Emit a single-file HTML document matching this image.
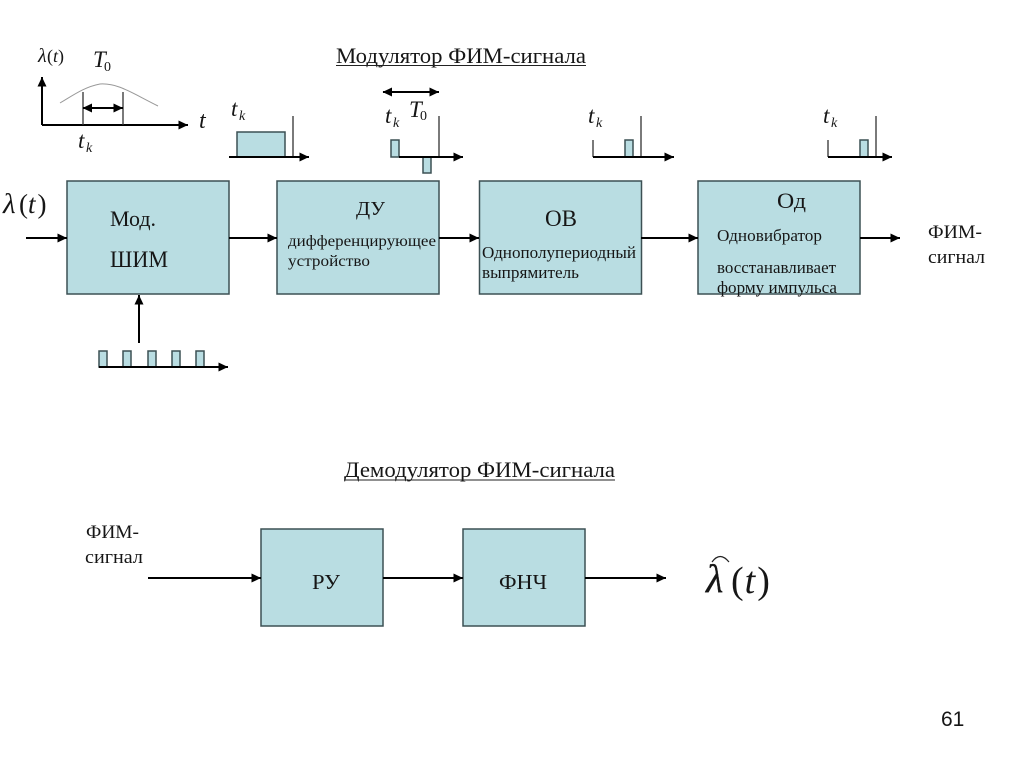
<!DOCTYPE html>
<html><head><meta charset="utf-8">
<style>
html,body{margin:0;padding:0;background:#fff;width:1024px;height:767px;overflow:hidden}
svg{display:block}
text{font-family:"Liberation Serif","DejaVu Serif",serif;fill:#161616}
.i{font-style:italic}
.b{fill:#b9dde2;stroke:#3c5054;stroke-width:1.5}
.p{fill:#b9dde2;stroke:#3c5054;stroke-width:1.5}
.l{stroke:#000;stroke-width:2;fill:none}
.g{stroke:#333;stroke-width:1.3;fill:none}
</style></head><body>
<svg width="1024" height="767" viewBox="0 0 1024 767" xmlns="http://www.w3.org/2000/svg">
<defs>
<marker id="a" markerUnits="userSpaceOnUse" markerWidth="11" markerHeight="12" refX="9.500" refY="6" orient="auto"><path d="M0,1.500 L9.500,6 L0,10.500 Z" fill="#000"/></marker>
<marker id="s" markerUnits="userSpaceOnUse" markerWidth="11" markerHeight="12" refX="1" refY="6" orient="auto"><path d="M10,1.500 L0.500,6 L10,10.500 Z" fill="#000"/></marker>
</defs>

<!-- titles -->
<text x="336" y="63" font-size="22" textLength="250" lengthAdjust="spacingAndGlyphs">Модулятор ФИМ-сигнала</text>
<line x1="336" y1="65.500" x2="586" y2="65.500" stroke="#222" stroke-width="1"/>
<text x="344" y="477" font-size="22" textLength="271" lengthAdjust="spacingAndGlyphs">Демодулятор ФИМ-сигнала</text>
<line x1="344" y1="480" x2="615" y2="480" stroke="#222" stroke-width="1"/>

<!-- small graph -->
<path d="M60,103 C72,96 84,87 100,84 C118,83 130,92 158,106" fill="none" stroke="#999" stroke-width="1"/>
<line class="l" x1="42" y1="125" x2="42" y2="77" marker-end="url(#a)"/>
<line class="l" x1="42" y1="125" x2="188" y2="125" marker-end="url(#a)"/>
<line class="g" x1="83" y1="92" x2="83" y2="125"/>
<line class="g" x1="123" y1="92" x2="123" y2="125"/>
<line class="l" x1="83" y1="108" x2="123" y2="108" marker-start="url(#s)" marker-end="url(#a)"/>
<text class="i" x="38" y="62" font-size="20">λ</text><text x="47" y="62" font-size="18">(<tspan class="i">t</tspan>)</text>
<text class="i" x="93" y="67" font-size="23">T</text><text x="104" y="71" font-size="14">0</text>
<text class="i" x="199" y="128" font-size="24">t</text>
<text class="i" x="78" y="148" font-size="23">t</text><text class="i" x="86" y="152" font-size="14">k</text>

<!-- pulse 1 -->
<text class="i" x="231" y="116" font-size="23">t</text><text class="i" x="239" y="120" font-size="14">k</text>
<rect class="p" x="237" y="132" width="48" height="25"/>
<line class="g" x1="293" y1="116" x2="293" y2="157"/>
<line class="l" x1="229" y1="157" x2="309" y2="157" marker-end="url(#a)"/>

<!-- pulse 2 -->
<line class="l" x1="383" y1="92" x2="439" y2="92" marker-start="url(#s)" marker-end="url(#a)"/>
<text class="i" x="409" y="117" font-size="23">T</text><text x="420" y="120" font-size="14">0</text>
<text class="i" x="385" y="123" font-size="23">t</text><text class="i" x="393" y="127" font-size="14">k</text>
<rect class="p" x="391" y="140" width="8" height="17"/>
<rect class="p" x="423" y="157" width="8" height="16"/>
<line class="g" x1="439" y1="116" x2="439" y2="157"/>
<line class="l" x1="399" y1="157" x2="463" y2="157" marker-end="url(#a)"/>

<!-- pulse 3 -->
<text class="i" x="588" y="123" font-size="23">t</text><text class="i" x="596" y="127" font-size="14">k</text>
<rect class="p" x="625" y="140" width="8" height="17"/>
<line class="g" x1="593" y1="140" x2="593" y2="157"/>
<line class="g" x1="641" y1="116" x2="641" y2="157"/>
<line class="l" x1="593" y1="157" x2="674" y2="157" marker-end="url(#a)"/>

<!-- pulse 4 -->
<text class="i" x="823" y="123" font-size="23">t</text><text class="i" x="831" y="127" font-size="14">k</text>
<rect class="p" x="860" y="140" width="8" height="17"/>
<line class="g" x1="828" y1="140" x2="828" y2="157"/>
<line class="g" x1="876" y1="116" x2="876" y2="157"/>
<line class="l" x1="828" y1="157" x2="892" y2="157" marker-end="url(#a)"/>

<!-- boxes -->
<rect class="b" x="67" y="181" width="162" height="113"/>
<rect class="b" x="277" y="181" width="162" height="113"/>
<rect class="b" x="479.500" y="181" width="162" height="113"/>
<rect class="b" x="698" y="181" width="162" height="113"/>
<rect class="b" x="261" y="529" width="122" height="97"/>
<rect class="b" x="463" y="529" width="122" height="97"/>

<!-- arrows -->
<line class="l" x1="26" y1="238" x2="67" y2="238" marker-end="url(#a)"/>
<line class="l" x1="229" y1="238" x2="277" y2="238" marker-end="url(#a)"/>
<line class="l" x1="439" y1="238" x2="479" y2="238" marker-end="url(#a)"/>
<line class="l" x1="641" y1="238" x2="698" y2="238" marker-end="url(#a)"/>
<line class="l" x1="860" y1="238" x2="900" y2="238" marker-end="url(#a)"/>
<line class="l" x1="139" y1="343" x2="139" y2="295" marker-end="url(#a)"/>
<line class="l" x1="148" y1="578" x2="261" y2="578" marker-end="url(#a)"/>
<line class="l" x1="383" y1="578" x2="463" y2="578" marker-end="url(#a)"/>
<line class="l" x1="585" y1="578" x2="666" y2="578" marker-end="url(#a)"/>

<!-- clock pulses -->
<rect class="p" x="99" y="351" width="8" height="16"/>
<rect class="p" x="123" y="351" width="8" height="16"/>
<rect class="p" x="148" y="351" width="8" height="16"/>
<rect class="p" x="172" y="351" width="8" height="16"/>
<rect class="p" x="196" y="351" width="8" height="16"/>
<line class="l" x1="99" y1="367" x2="228" y2="367" marker-end="url(#a)"/>

<!-- input label -->
<text class="i" x="3" y="213" font-size="29">λ</text>
<text x="19" y="213" font-size="27">(<tspan class="i">t</tspan><tspan dx="2">)</tspan></text>

<!-- box text -->
<text x="110" y="226" font-size="22" textLength="46" lengthAdjust="spacingAndGlyphs">Мод.</text>
<text x="110" y="267" font-size="23" textLength="58" lengthAdjust="spacingAndGlyphs">ШИМ</text>

<text x="356" y="215" font-size="20" textLength="29" lengthAdjust="spacingAndGlyphs">ДУ</text>
<text x="288" y="246" font-size="16" textLength="148" lengthAdjust="spacingAndGlyphs">дифференцирующее</text>
<text x="288" y="266" font-size="16" textLength="82" lengthAdjust="spacingAndGlyphs">устройство</text>

<text x="545" y="226" font-size="23" textLength="32" lengthAdjust="spacingAndGlyphs">ОВ</text>
<text x="482" y="258" font-size="17" textLength="154" lengthAdjust="spacingAndGlyphs">Однополупериодный</text>
<text x="482" y="278" font-size="17" textLength="97" lengthAdjust="spacingAndGlyphs">выпрямитель</text>

<text x="777" y="208" font-size="22" textLength="29" lengthAdjust="spacingAndGlyphs">Од</text>
<text x="717" y="241" font-size="16.500" textLength="105" lengthAdjust="spacingAndGlyphs">Одновибратор</text>
<text x="717" y="273" font-size="16.500" textLength="119" lengthAdjust="spacingAndGlyphs">восстанавливает</text>
<text x="717" y="293" font-size="16.500" textLength="120" lengthAdjust="spacingAndGlyphs">форму импульса</text>

<text x="928" y="238" font-size="19" textLength="54" lengthAdjust="spacingAndGlyphs">ФИМ-</text>
<text x="928" y="263" font-size="19" textLength="57" lengthAdjust="spacingAndGlyphs">сигнал</text>

<text x="86" y="538" font-size="19" textLength="53" lengthAdjust="spacingAndGlyphs">ФИМ-</text>
<text x="85" y="563" font-size="19" textLength="58" lengthAdjust="spacingAndGlyphs">сигнал</text>

<text x="312" y="589" font-size="21" textLength="28" lengthAdjust="spacingAndGlyphs">РУ</text>
<text x="499" y="589" font-size="21" textLength="48" lengthAdjust="spacingAndGlyphs">ФНЧ</text>

<!-- output estimate -->
<text class="i" x="706" y="592" font-size="40" stroke="#161616" stroke-width="0.3">λ</text>
<path d="M712,562 Q720,551 729,562" fill="none" stroke="#222" stroke-width="1.200"/>
<text x="731" y="593" font-size="38">(<tspan class="i" dx="1">t</tspan><tspan dx="2">)</tspan></text>

<text x="941" y="726" font-size="21" style="font-family:'Liberation Sans',sans-serif">61</text>
</svg>
</body></html>
